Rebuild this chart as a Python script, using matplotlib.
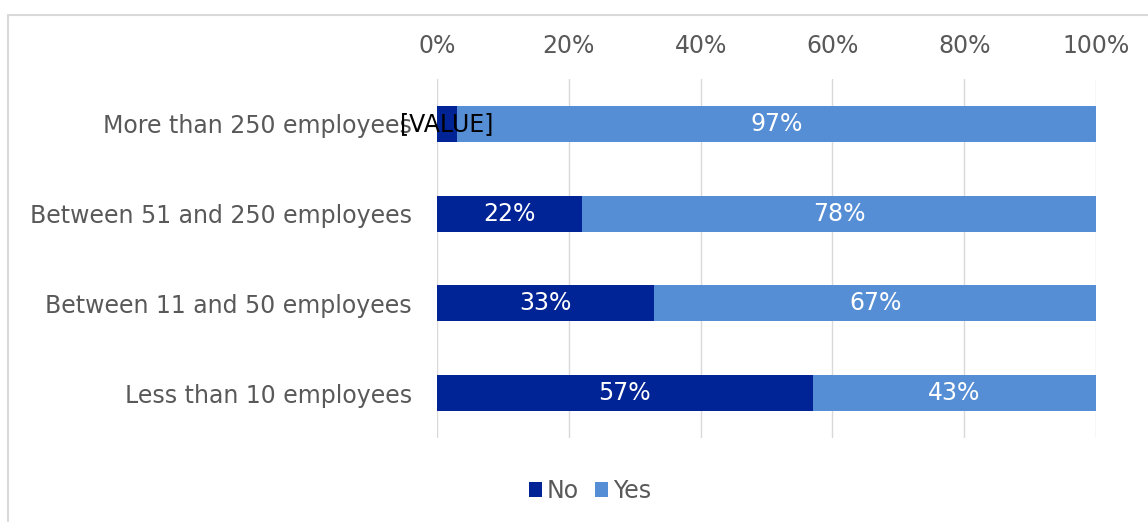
import matplotlib
matplotlib.use("Agg")
import matplotlib.pyplot as plt
from matplotlib.patches import Rectangle
import numpy as np

categories = ["More than 250 employees", "Between 51 and 250 employees",
              "Between 11 and 50 employees", "Less than 10 employees"]
no_vals = [3, 22, 33, 57]
yes_vals = [97, 78, 67, 43]
no_labels = ["[VALUE]", "22%", "33%", "57%"]
yes_labels = ["97%", "78%", "67%", "43%"]
xticks = [0, 20, 40, 60, 80, 100]
xtick_labels = ["0%", "20%", "40%", "60%", "80%", "100%"]

c_no = "#002395"
c_yes = "#558ED5"
gray = "#595959"
grid = "#D9D9D9"
fs = 17

plt.rcParams['font.family'] = ['DejaVu Sans']
fig = plt.figure(figsize=(11.48, 5.22), dpi=100)
ax = fig.add_axes([437/1148, 1-438/522, (1096-437)/1148, (438-79)/522])

y = np.arange(len(categories))
ax.barh(y, no_vals, height=0.4, color=c_no, label="No", zorder=2)
ax.barh(y, yes_vals, left=no_vals, height=0.4, color=c_yes, label="Yes", zorder=2)

for i in range(len(categories)):
    col = "black" if no_labels[i] == "[VALUE]" else "white"
    ax.text(no_vals[i]/2, y[i], no_labels[i], ha="center", va="center",
            color=col, fontsize=fs, zorder=3)
    ax.text(no_vals[i] + yes_vals[i]/2, y[i], yes_labels[i], ha="center",
            va="center", color="white", fontsize=fs, zorder=3)

ax.set_xlim(0, 100)
ax.set_ylim(len(categories)-0.5, -0.5)
ax.set_xticks(xticks)
ax.set_xticklabels(xtick_labels)
ax.xaxis.tick_top()
ax.set_yticks(y)
ax.set_yticklabels(categories)
ax.tick_params(axis="both", length=0, labelsize=fs, labelcolor=gray)
ax.tick_params(axis="x", pad=15)
ax.tick_params(axis="y", pad=18)
ax.grid(axis="x", color=grid, linewidth=1, zorder=0)
for s in ax.spines.values():
    s.set_visible(False)

leg = fig.legend(loc="center", bbox_to_anchor=(590/1148, 1-491/522), ncol=2,
                 frameon=False, fontsize=fs, handlelength=0.55, handleheight=0.6,
                 handletextpad=0.2, columnspacing=0.7, labelcolor=gray)

fig.patches.append(Rectangle((8/1148, -0.1), 1.2, 1.1 - 15/522,
                             transform=fig.transFigure, fill=False,
                             edgecolor=grid, linewidth=1.5))

fig.savefig("out.png", dpi=100)
